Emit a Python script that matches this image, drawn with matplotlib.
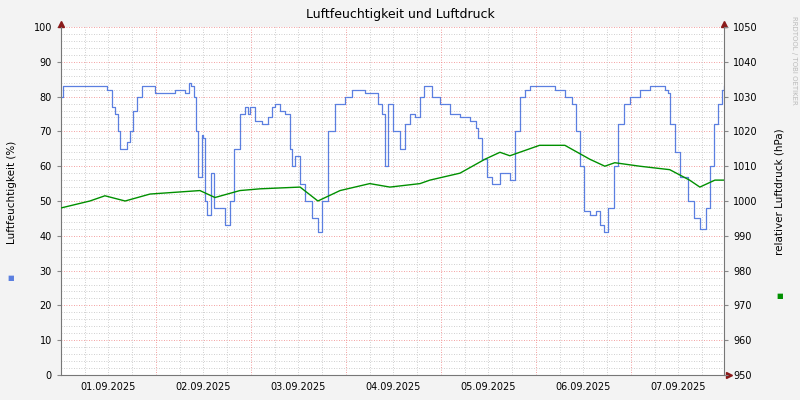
import matplotlib
matplotlib.use("Agg")
import matplotlib.pyplot as plt
import numpy as np

hum_h = [0,0.5,11.6,12.4,12.9,13.6,14.4,14.9,16.7,17.4,18.2,19.2,20.5,23.7,26.3,28.8,31.3,32.3,32.8,33.6,34.1,34.6,35.6,35.9,36.4,36.9,37.9,38.6,41.4,42.7,43.7,45.2,46.5,47.2,47.7,49.0,50.8,52.3,53.3,54.0,55.3,56.6,57.8,58.3,59.1,60.4,61.6,63.4,64.9,65.9,67.4,69.2,71.7,73.5,76.8,78.5,80.1,81.1,81.8,82.6,83.8,85.6,86.9,88.1,89.4,90.7,91.7,93.7,95.7,98.2,100.8,103.3,104.8,105.3,106.3,107.6,108.8,110.9,113.4,114.6,115.9,117.2,118.4,122.2,124.7,127.3,129.0,130.1,131.1,132.1,133.6,135.1,136.1,137.1,138.1,139.6,140.7,142.2,143.7,146.2,148.7,152.5,153.3,153.8,155.1,156.3,158.3,159.8,161.4,162.9,163.9,164.9,165.9,166.9,167.4]
hum_v = [80,83,82,82,77,75,70,65,67,70,76,80,83,81,81,82,81,84,83,80,70,57,69,68,50,46,58,48,43,50,65,75,77,75,77,73,72,74,77,78,76,75,65,60,63,55,50,45,41,50,70,78,80,82,81,81,78,75,60,78,70,65,72,75,74,80,83,80,78,75,74,73,71,68,62,57,55,58,56,70,80,82,83,83,82,80,78,70,60,47,46,47,43,41,48,60,72,78,80,82,83,82,81,72,64,57,50,45,42,48,60,72,78,82,83]

p_h = [0,7.3,11.1,16.2,22.5,28.8,35.1,38.9,45.2,50.3,60.4,64.9,70.5,78.0,83.1,90.7,93.2,100.8,107.1,110.9,113.4,120.9,127.3,133.6,137.4,139.9,146.2,153.8,158.8,161.4,165.2,167.4]
p_v = [998,1000,1001.5,1000,1002,1002.5,1003,1001,1003,1003.5,1004,1000,1003,1005,1004,1005,1006,1008,1012,1014,1013,1016,1016,1012,1010,1011,1010,1009,1006,1004,1006,1006]

day_labels = ["01.09.2025","02.09.2025","03.09.2025","04.09.2025","05.09.2025","06.09.2025","07.09.2025"]

fig = plt.figure(figsize=(8,4), dpi=100, facecolor="#f3f3f3")
ax = fig.add_axes([61/800, 25/400, 663/800, 348/400], facecolor="white")
ax.set_xlim(0, 167.5); ax.set_ylim(0, 100)
ax.step(hum_h, hum_v, where="post", color="#5b7fe0", lw=0.9)
ax2 = ax.twinx()
ax2.set_ylim(950, 1050)
ax2.plot(p_h, p_v, color="#009000", lw=1.0)

for y in range(0, 101, 2):
    ax.axhline(y, color="#f08080" if y % 10 == 0 else "#c0c0c0", lw=0.6, ls=(0,(1,2)), zorder=0)
for x in range(0, 169, 6):
    ax.axvline(x, color="#f08080" if x % 24 == 0 else "#c0c0c0", lw=0.6, ls=(0,(1,2)), zorder=0)

ax.set_xticks([12+24*i for i in range(7)])
ax.set_xticklabels(day_labels, fontsize=7)
ax.tick_params(axis="x", length=0, pad=5)
ax.set_yticks(range(0, 101, 10))
ax.tick_params(axis="y", labelsize=7, length=3, color="#888888")
ax2.set_yticks(range(950, 1051, 10))
ax2.tick_params(labelsize=7, length=3, color="#888888")
for a in (ax, ax2):
    for s in a.spines.values():
        s.set_visible(False)
ax.spines["left"].set_visible(True); ax.spines["bottom"].set_visible(True)
ax2.spines["right"].set_visible(True)
for sp in (ax.spines["left"], ax.spines["bottom"], ax2.spines["right"]):
    sp.set_color("#777777"); sp.set_linewidth(0.8)

# axis arrows
ax.plot([0], [100.8], marker="^", color="#8b1a1a", ms=4, transform=ax.transData, clip_on=False)
ax.plot([167.5], [100.8], marker="^", color="#8b1a1a", ms=4, clip_on=False)
ax.plot([168.8], [0], marker=">", color="#8b1a1a", ms=4, clip_on=False)

fig.text(0.5, 0.955, "Luftfeuchtigkeit und Luftdruck", ha="center", fontsize=9)
fig.text(0.015, 0.52, "Luftfeuchtigkeit (%)", rotation=90, va="center", ha="center", fontsize=7.5)
fig.text(0.975, 0.52, "relativer Luftdruck (hPa)", rotation=90, va="center", ha="center", fontsize=7.5)
fig.text(0.013, 0.305, "■", color="#5b7fe0", fontsize=5, ha="center", va="center")
fig.text(0.974, 0.26, "■", color="#009000", fontsize=5, ha="center", va="center")
fig.text(0.992, 0.85, "RRDTOOL / TOBI OETIKER", rotation=270, fontsize=5, color="#bbbbbb", ha="center", va="center")
fig.savefig("out.png", dpi=100, facecolor=fig.get_facecolor())
